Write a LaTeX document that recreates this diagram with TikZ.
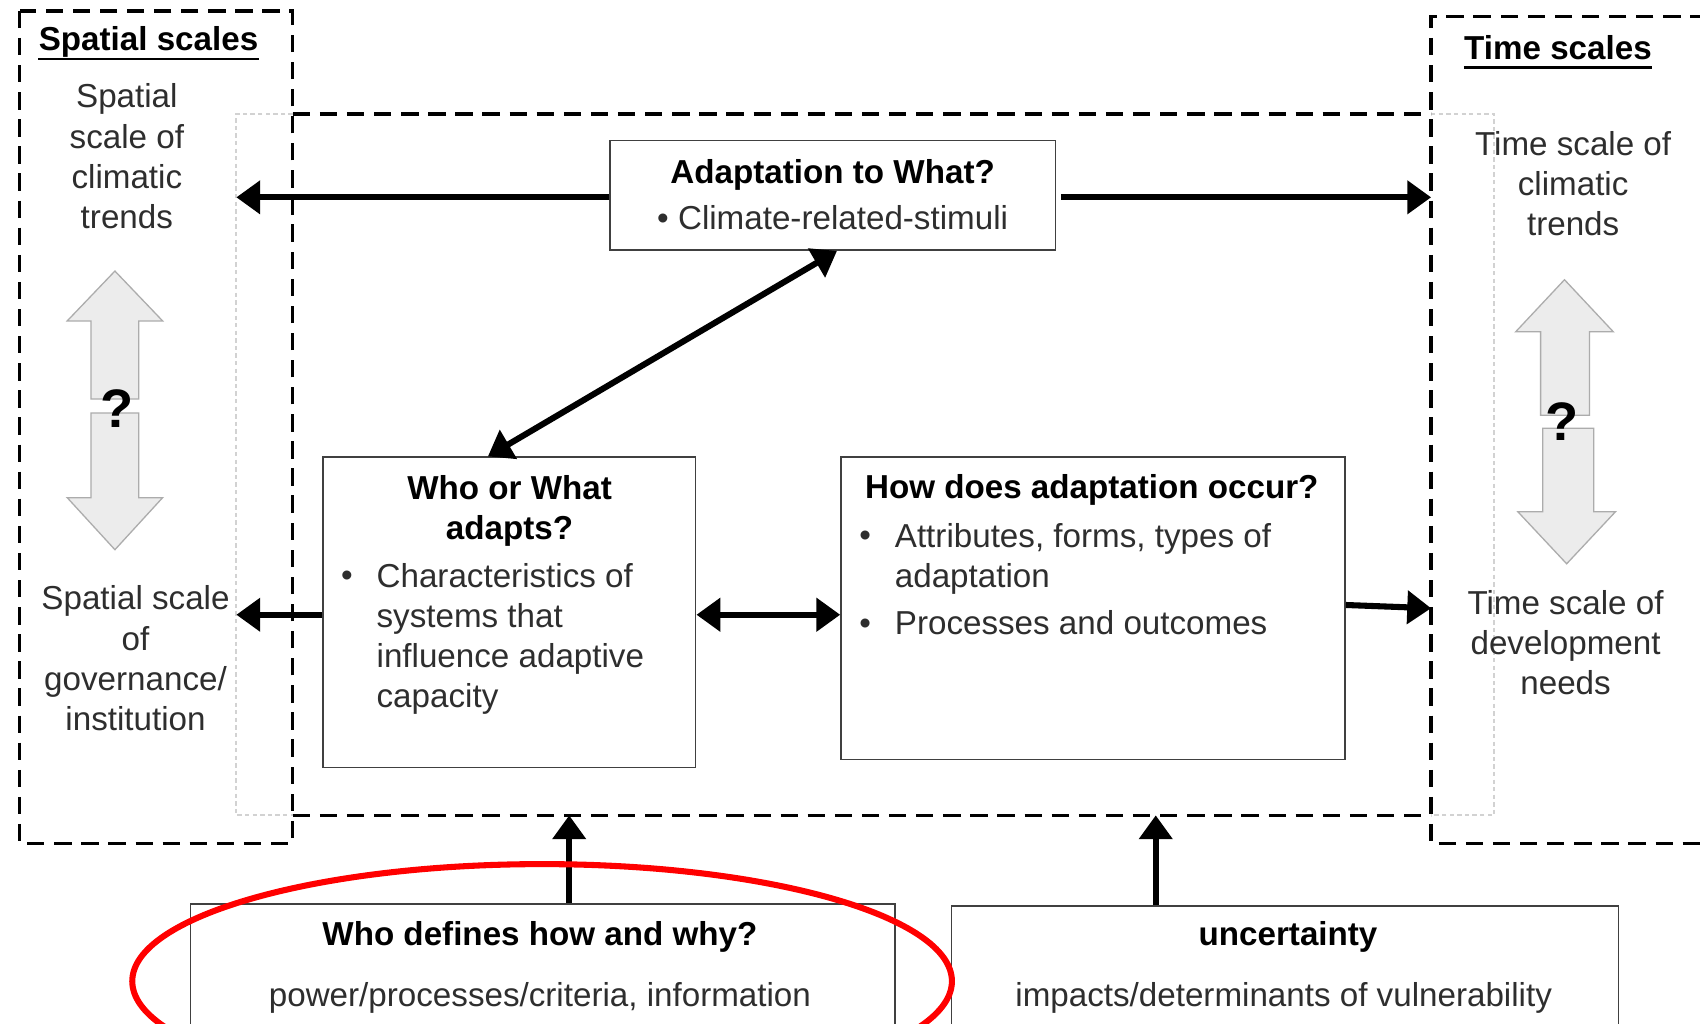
\documentclass[tikz,border=0pt]{standalone}
\usepackage{fontspec}
\setmainfont{Liberation Sans}
\usetikzlibrary{arrows.meta,calc}
\begin{document}
\begin{tikzpicture}[x=0.5pt,y=-0.5pt,
  txt/.style={font=\fontsize{15.3}{18.5}\selectfont, text=black!82, inner sep=0pt},
  hd/.style={font=\fontsize{15.3}{18.5}\selectfont\bfseries, text=black, inner sep=0pt},
  qm/.style={font=\fontsize{25}{25}\selectfont\bfseries, text=black, inner sep=0pt},
  box/.style={draw=black!75, line width=0.7pt, fill=white, inner sep=0pt, anchor=north west},
  dashframe/.style={draw=black, line width=1.6pt, dash pattern=on 8pt off 4.5pt},
  dotframe/.style={draw=gray!35, line width=1pt, dash pattern=on 2pt off 1.5pt},
  conn/.style={line width=2.8pt, -{Triangle[length=11pt,width=15pt]}},
  biconn/.style={line width=2.8pt, {Triangle[length=11pt,width=15pt]}-{Triangle[length=11pt,width=15pt]}},
  bigarrow/.style={draw=gray!65, fill=gray!15, line width=0.6pt},
  uline/.style={line width=1pt},
]
\useasboundingbox (0,0) rectangle (1568,944);
\clip (0,0) rectangle (1568,944);
\fill[white] (0,0) rectangle (1568,944);

% faint dotted frame
\draw[dotframe] (270,105) -- (218,105) -- (218,752) -- (270,752);
\draw[dotframe] (1320,105) -- (1378,105) -- (1378,752) -- (1320,752);

% dashed frames
\draw[dashframe] (18,10) rectangle (270,778);
\draw[dashframe] (1600,15) -- (1320,15) -- (1320,778) -- (1600,778);
\draw[dashframe] (270,105) -- (1320,105);
\draw[dashframe] (270,752) -- (1320,752);

% headings
\node[hd, anchor=base] (sptitle) at (137,47) {Spatial scales};
\draw[uline] ([yshift=-3.6pt]sptitle.base west) -- ([yshift=-3.6pt]sptitle.base east);
\node[hd, anchor=base] (tmtitle) at (1437,55) {Time scales};
\draw[uline] ([yshift=-3.6pt]tmtitle.base west) -- ([yshift=-3.6pt]tmtitle.base east);

% side texts
\node[txt, align=center, anchor=north] (sptop) at (117,77) {Spatial\\scale of\\climatic\\trends};
\node[txt, align=center, anchor=north] (spbot) at (125,540) {Spatial scale\\of\\governance/\\institution};
\node[txt, align=center, anchor=north] (tmtop) at (1451,121) {Time scale of\\climatic\\trends};
\node[txt, align=center, anchor=north] (tmbot) at (1444,544) {Time scale of\\development\\needs};

% big double arrows
\draw[bigarrow] (106,250) -- (150,296) -- (128,296) -- (128,368) -- (84,368) -- (84,296) -- (62,296) -- cycle;
\draw[bigarrow] (84,381) -- (128,381) -- (128,459) -- (150,459) -- (106,507) -- (62,459) -- (84,459) -- cycle;
\node[qm] (spq) at (108,377) {?};
\draw[bigarrow] (1443,258) -- (1488,306) -- (1466,306) -- (1466,383) -- (1421,383) -- (1421,306) -- (1398,306) -- cycle;
\draw[bigarrow] (1423,395) -- (1470,395) -- (1470,472) -- (1490,472) -- (1445,520) -- (1400,472) -- (1423,472) -- cycle;
\node[qm] (tmq) at (1441,389) {?};

% boxes
\node[box, minimum width=205.5pt, minimum height=50.5pt] (adapt) at (562,129) {};
\node[hd, anchor=base] (adaptt) at (768,169) {Adaptation to What?};
\node[txt, anchor=base] (adaptb) at (768,212) {\textbullet\ Climate-related-stimuli};

\node[box, minimum width=172pt, minimum height=143pt] (who) at (297,421) {};
\node[hd, align=center, anchor=north] (whot) at (470,438) {Who or What\\adapts?};
\node[txt, anchor=base] (whob) at (320,541) {\textbullet};
\node[txt, align=left, anchor=north west] (whol) at (347,519) {Characteristics of\\systems that\\influence adaptive\\capacity};

\node[box, minimum width=232.5pt, minimum height=139.5pt] (how) at (775,421) {};
\node[hd, anchor=base] (howt) at (1007,460) {How does adaptation occur?};
\node[txt, anchor=base] (howb1) at (798,504) {\textbullet};
\node[txt, align=left, anchor=north west] (howl1) at (825,482) {Attributes, forms, types of\\adaptation};
\node[txt, anchor=base] (howb2) at (798,585) {\textbullet};
\node[txt, anchor=base west] (howl2) at (825,585) {Processes and outcomes};

\node[box, minimum width=325pt, minimum height=70pt] (define) at (175,833) {};
\node[hd, anchor=base] (definet) at (498,872) {Who defines how and why?};
\node[txt, anchor=base] (defines) at (498,928) {power/processes/criteria, information};

\node[box, minimum width=307.5pt, minimum height=70pt] (uncert) at (877,835) {};
\node[hd, anchor=base] (uncertt) at (1188,872) {uncertainty};
\node[txt, anchor=base] (uncerts) at (1184,928) {impacts/determinants of vulnerability};

% connector end points
\coordinate (L1) at (218,182);
\coordinate (R1) at (1320,182);
\coordinate (L2) at (218,567);
\coordinate (R2) at (1320,561);
\coordinate (U1) at (525,752);
\coordinate (U2) at (1066,752);

% connectors
\draw[conn] (adapt.west |- L1) -- (L1);
\draw[conn] ([xshift=2pt]adapt.east |- R1) -- (R1);
\draw[biconn] (who.north -| 450,0) -- (adapt.south -| 772,0);
\draw[conn] (who.west |- L2) -- (L2);
\draw[biconn] (who.east |- L2) -- (how.west |- L2);
\draw[conn] (how.east |- 0,558) -- (R2);
\draw[conn] (define.north -| U1) -- (U1);
\draw[conn] (uncert.north -| U2) -- (U2);

% red ellipse
\draw[red, line width=2.8pt] (500,905) ellipse [x radius=189pt, y radius=54pt];
\end{tikzpicture}
\end{document}
